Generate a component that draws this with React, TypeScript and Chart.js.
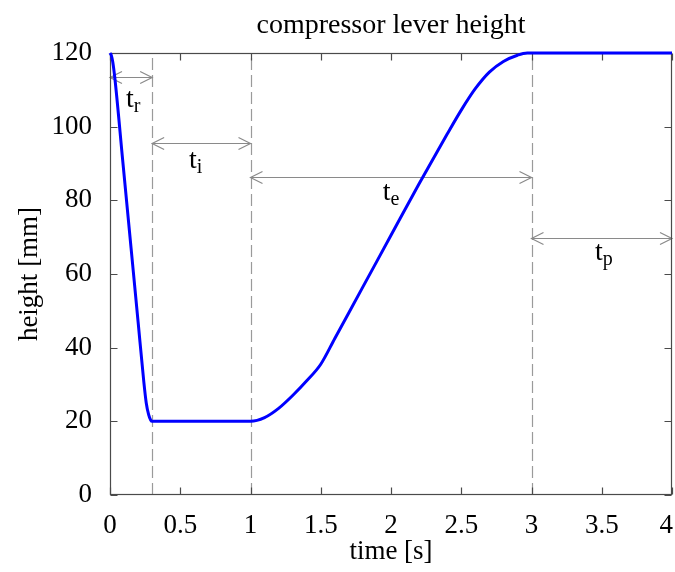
import React, { useEffect, useRef } from "react";
import { Chart, registerables } from "chart.js";

Chart.register(...registerables);

// ---- data ----
const timeS = [0, 0.01, 0.02, 0.035, 0.09, 0.15, 0.2, 0.24, 0.258, 0.275, 0.29, 0.3, 0.6, 1.0, 1.1, 1.2, 1.3, 1.4, 1.5, 1.6, 1.8, 2.0, 2.2, 2.4, 2.5, 2.6, 2.7, 2.8, 2.9, 2.97, 3.5, 4.0];
const heightMm = [120, 119.3, 117.5, 113, 91, 67, 47, 31, 25, 21.8, 20.3, 20, 20, 20, 21, 23.5, 27, 31, 35.5, 42.5, 56.5, 70.5, 84.5, 98, 104.5, 110.3, 114.8, 117.7, 119.4, 120, 120, 120];

const xTickValues = [0, 0.5, 1, 1.5, 2, 2.5, 3, 3.5, 4];
const xTickLabels = ["0", "0.5", "1", "1.5", "2", "2.5", "3", "3.5", "4"];
const yTickValues = [0, 20, 40, 60, 80, 100, 120];

const markerTimes = [0.3, 1, 3];

const spanSubscripts = ["r", "i", "e", "p"];
const spanStart = [0, 0.3, 1, 3];
const spanEnd = [0.3, 1, 3, 4];
const spanArrowHeight = [113.6, 95.5, 86.2, 69.7];
const spanLabelTime = [0.165, 0.61, 2.0, 3.515];
const spanLabelHeight = [105.4, 88.8, 80.1, 63.8];

const FONT = "'Liberation Serif', 'Times New Roman', serif";

const overlayPlugin = {
  id: "overlay",
  beforeDatasetsDraw(chart: any) {
    const { ctx, chartArea, scales } = chart;
    const xs = scales.x;
    const ys = scales.y;
    ctx.save();
    // dashed markers
    ctx.strokeStyle = "#9a9a9a";
    ctx.lineWidth = 1.2;
    ctx.setLineDash([12, 5]);
    markerTimes.forEach((t) => {
      const x = Math.round(xs.getPixelForValue(t)) + 0.5;
      ctx.beginPath();
      ctx.moveTo(x, chartArea.bottom);
      ctx.lineTo(x, chartArea.top);
      ctx.stroke();
    });
    ctx.setLineDash([]);

    // arrows
    ctx.strokeStyle = "#8a8a8a";
    ctx.lineWidth = 1.2;
    spanStart.forEach((s, i) => {
      const x1 = xs.getPixelForValue(s);
      const x2 = xs.getPixelForValue(spanEnd[i]);
      const y = Math.round(ys.getPixelForValue(spanArrowHeight[i])) + 0.5;
      ctx.beginPath();
      ctx.moveTo(x1, y);
      ctx.lineTo(x2, y);
      ctx.moveTo(x1 + 12, y - 6);
      ctx.lineTo(x1, y);
      ctx.lineTo(x1 + 12, y + 6);
      ctx.moveTo(x2 - 12, y - 6);
      ctx.lineTo(x2, y);
      ctx.lineTo(x2 - 12, y + 6);
      ctx.stroke();
    });

    // labels
    ctx.fillStyle = "#000";
    ctx.textBaseline = "alphabetic";
    ctx.textAlign = "left";
    spanSubscripts.forEach((sub, i) => {
      const cx = xs.getPixelForValue(spanLabelTime[i]);
      const by = ys.getPixelForValue(spanLabelHeight[i]);
      ctx.font = `28px ${FONT}`;
      const wt = ctx.measureText("t").width;
      ctx.font = `20px ${FONT}`;
      const ws = ctx.measureText(sub).width;
      const x0 = cx - (wt + ws) / 2;
      ctx.font = `28px ${FONT}`;
      ctx.fillText("t", x0, by);
      ctx.font = `20px ${FONT}`;
      ctx.fillText(sub, x0 + wt, by + 5);
    });

    // frame
    ctx.strokeStyle = "#4a4a4a";
    ctx.lineWidth = 1.2;
    const l = Math.round(chartArea.left) + 0.5;
    const r = Math.round(chartArea.right) - 0.5;
    const t = Math.round(chartArea.top) + 0.5;
    const b = Math.round(chartArea.bottom) - 0.5;
    ctx.strokeRect(l, t, r - l, b - t);
    ctx.beginPath();
    xTickValues.forEach((v) => {
      const x = Math.round(xs.getPixelForValue(v)) + 0.5;
      ctx.moveTo(x, b);
      ctx.lineTo(x, b - 7);
      ctx.moveTo(x, t);
      ctx.lineTo(x, t + 7);
    });
    yTickValues.forEach((v) => {
      const y = Math.round(ys.getPixelForValue(v)) + 0.5;
      ctx.moveTo(l, y);
      ctx.lineTo(l + 7, y);
      ctx.moveTo(r, y);
      ctx.lineTo(r - 7, y);
    });
    ctx.stroke();
    ctx.restore();
  },
  afterDraw(chart: any) {
    const { ctx, chartArea, scales, width } = chart;
    const xs = scales.x;
    ctx.save();
    ctx.fillStyle = "#000";
    ctx.font = `27px ${FONT}`;
    ctx.textAlign = "left";
    ctx.textBaseline = "middle";
    xTickValues.forEach((v, i) => {
      const label = xTickLabels[i];
      const w = ctx.measureText(label).width;
      let x = xs.getPixelForValue(v) - w / 2;
      if (x + w > width - 2) x = width - 2 - w;
      ctx.fillText(label, x, chartArea.bottom + 31);
    });
    ctx.restore();
  },
};

export default function App() {
  const canvasRef = useRef<HTMLCanvasElement | null>(null);

  useEffect(() => {
    if (!canvasRef.current) return;
    const chart = new Chart(canvasRef.current, {
      type: "line",
      data: {
        datasets: [
          {
            data: timeS.map((t, i) => ({ x: t, y: heightMm[i] })),
            borderColor: "#0000ff",
            borderWidth: 3,
            pointRadius: 0,
            fill: false,
            cubicInterpolationMode: "monotone",
            clip: false,
          } as any,
        ],
      },
      plugins: [overlayPlugin],
      options: {
        animation: false,
        responsive: true,
        maintainAspectRatio: false,
        layout: { padding: { top: 0, right: 3, bottom: 0, left: 0 } },
        plugins: {
          legend: { display: false },
          tooltip: { enabled: false },
          title: {
            display: true,
            fullSize: false,
            text: "compressor lever height",
            color: "#000",
            font: { family: FONT, size: 28, weight: "normal", lineHeight: 1.2 },
            padding: { top: 9, bottom: 10.4 },
          },
        },
        scales: {
          x: {
            type: "linear",
            min: 0,
            max: 4,
            ticks: { display: false, stepSize: 0.5 },
            grid: { display: false, drawTicks: false },
            border: { display: false },
            title: {
              display: true,
              text: "time [s]",
              color: "#000",
              font: { family: FONT, size: 27, lineHeight: 1.2 },
              padding: { top: 0, bottom: 4 },
            },
            afterFit: (s: any) => {
              s.height = 77;
              s.paddingLeft = 0;
              s.paddingRight = 0;
            },
          },
          y: {
            type: "linear",
            min: 0,
            max: 120,
            ticks: {
              stepSize: 20,
              color: "#000",
              font: { family: FONT, size: 27, lineHeight: 1.2 },
              padding: 18,
            },
            grid: { display: false, drawTicks: false },
            border: { display: false },
            title: {
              display: true,
              text: "height [mm]",
              color: "#000",
              font: { family: FONT, size: 27, lineHeight: 1.2 },
              padding: { top: 14, bottom: 0 },
            },
            afterFit: (s: any) => {
              s.width = 110;
            },
          },
        },
      } as any,
    });
    return () => chart.destroy();
  }, []);

  return (
    <div style={{ position: "absolute", left: 0, top: 0, width: 675, height: 572, background: "#fff" }}>
      <canvas ref={canvasRef} />
    </div>
  );
}
